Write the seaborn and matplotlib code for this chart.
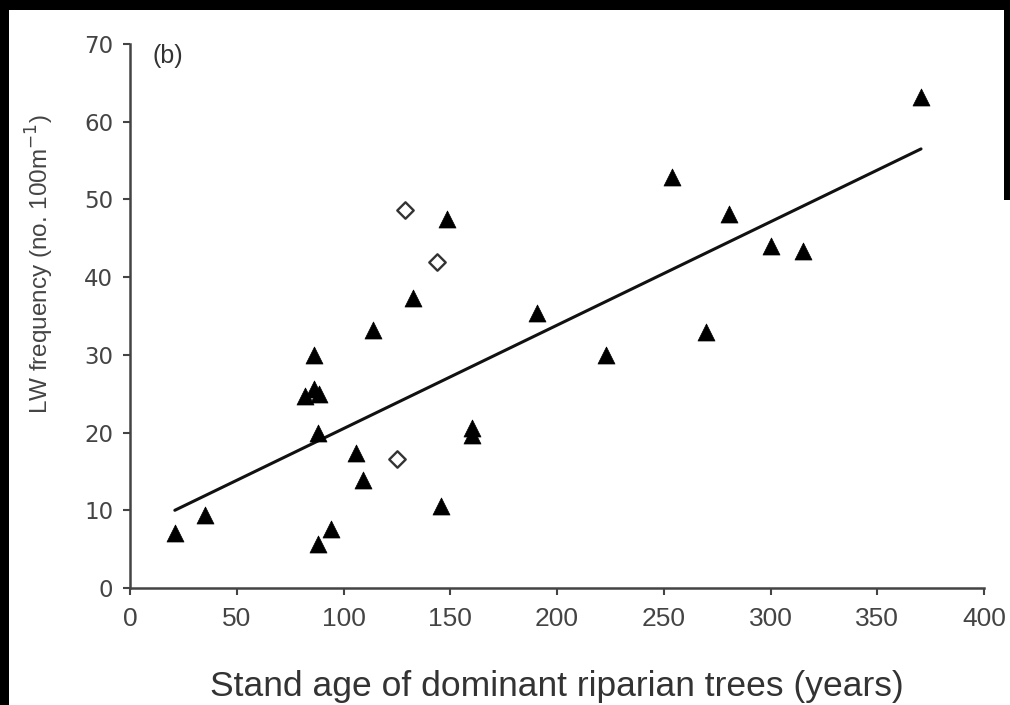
import matplotlib
matplotlib.use("Agg")
import matplotlib.pyplot as plt
import seaborn as sns
import pandas as pd
from matplotlib.patches import Rectangle

# Triangles (filled)
tri_age = [21, 35, 82, 86, 88.5, 86, 88, 88, 94, 106, 109, 114, 132.5, 145.7,
           148.5, 160, 160, 190.6, 223, 254, 270, 280.6, 300, 315, 370.5]
tri_lw = [7.1, 9.4, 24.7, 25.6, 25.0, 30.0, 20.0, 5.7, 7.6, 17.4, 13.9, 33.2, 37.3, 10.6,
          47.5, 20.6, 19.7, 35.4, 30.0, 52.9, 33.0, 48.1, 44.0, 43.4, 63.2]

# Diamonds (open)
dia_age = [129, 144, 125]
dia_lw = [48.6, 42.0, 16.6]

# Regression line end points
fit_age = [21, 370.5]
fit_lw = [10.0, 56.5]

x_ticks = [0, 50, 100, 150, 200, 250, 300, 350, 400]
y_ticks = [0, 10, 20, 30, 40, 50, 60, 70]

sns.set_style("white")
plt.rcParams['font.family'] = ['Liberation Sans', 'DejaVu Sans']

fig = plt.figure(figsize=(10.1, 7.05), dpi=100, facecolor="black")
fig.patches.append(Rectangle((9/1010, 0), (1004-9)/1010, (705-10)/705,
                             transform=fig.transFigure, facecolor="white",
                             edgecolor="none", zorder=-10))
fig.patches.append(Rectangle((1004/1010, 0), 6/1010, 505/705,
                             transform=fig.transFigure, facecolor="white",
                             edgecolor="none", zorder=-10))
ax = fig.add_axes([130/1010, (705-588)/705, (984-130)/1010, (588-44)/705])
ax.set_facecolor("white")

df_tri = pd.DataFrame({"age": tri_age, "lw": tri_lw})
df_dia = pd.DataFrame({"age": dia_age, "lw": dia_lw})
df_fit = pd.DataFrame({"age": fit_age, "lw": fit_lw})

sns.lineplot(data=df_fit, x="age", y="lw", ax=ax, color="#111111", linewidth=2.2, zorder=2)
sns.scatterplot(data=df_tri, x="age", y="lw", ax=ax, marker="^", s=150,
                color="black", edgecolor="black", linewidth=0.5, zorder=3)
sns.scatterplot(data=df_dia, x="age", y="lw", ax=ax, marker="D", s=70,
                facecolor="white", edgecolor="#333333", linewidth=1.7, zorder=3)

ax.set_xlim(0, 400)
ax.set_ylim(0, 70)
ax.set_xticks(x_ticks)
ax.set_yticks(y_ticks)
ax.set_xticklabels([str(v) for v in x_ticks], fontsize=19)
ax.set_yticklabels([str(v) for v in y_ticks], family=['DejaVu Sans'], fontsize=16.5)

for s in ["top", "right"]:
    ax.spines[s].set_visible(False)
for s in ["left", "bottom"]:
    ax.spines[s].set_visible(True)
    ax.spines[s].set_color("#444444")
    ax.spines[s].set_linewidth(1.8)

ax.tick_params(axis="both", which="major", direction="out", length=5, width=1.5,
               color="#444444", labelcolor="#444444", bottom=True, left=True)
ax.tick_params(axis="x", pad=9)
ax.tick_params(axis="y", pad=7)

ax.set_xlabel("Stand age of dominant riparian trees (years)", fontsize=25.5,
              color="#333333", labelpad=28)
ax.set_ylabel("LW frequency (no. 100m$^{-1}$)", fontsize=17.5, color="#444444",
              labelpad=20, y=0.595)

ax.text(0.026, 1.0, "(b)", transform=ax.transAxes, fontsize=18, color="#333333",
        va="top", ha="left")

fig.savefig("out.png", dpi=100, facecolor=fig.get_facecolor())
